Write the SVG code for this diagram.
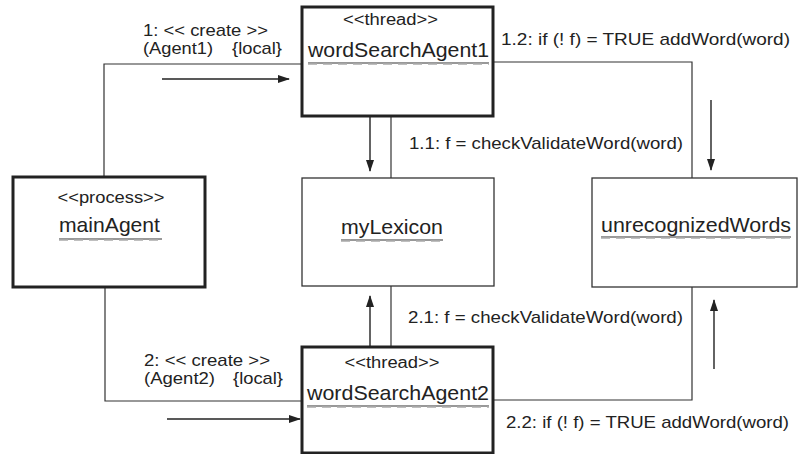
<svg xmlns="http://www.w3.org/2000/svg" width="800" height="454" viewBox="0 0 800 454">
<defs>
<marker id="ah" markerWidth="12" markerHeight="10" refX="11" refY="5" orient="auto" markerUnits="userSpaceOnUse">
<path d="M0,1 L12,5 L0,9 Z" fill="#222"/>
</marker>
<style>
text{font-family:"Liberation Sans",Arial,sans-serif;fill:#222}
.lbl{font-size:17px}
.st{font-size:16px;text-anchor:middle}
.nm{font-size:21px}
.thick{fill:#fff;stroke:#222;stroke-width:3}
.thin{fill:#fff;stroke:#333;stroke-width:1.3}
.ul{stroke:#333;stroke-width:1}
.uld{stroke:#aaa;stroke-width:1.5;stroke-dasharray:9 6}
.c{fill:none;stroke:#333;stroke-width:1.2}
.a{fill:none;stroke:#222;stroke-width:1.4;marker-end:url(#ah)}
</style>
</defs>
<rect width="800" height="454" fill="#fff"/>
<g id="connectors">
<polyline class="c" points="104,177 104,64 302,64"/>
<polyline class="c" points="493,62 692,62 692,178"/>
<line class="c" x1="391" y1="116" x2="391" y2="178"/>
<line class="c" x1="391" y1="286" x2="391" y2="347"/>
<polyline class="c" points="105,287 105,401 302,401"/>
<polyline class="c" points="493,400 692,400 692,287"/>
<line class="a" x1="162" y1="79" x2="289" y2="79"/>
<line class="a" x1="370" y1="117" x2="370" y2="171"/>
<line class="a" x1="711" y1="100" x2="711" y2="170"/>
<line class="a" x1="370" y1="346" x2="370" y2="296"/>
<line class="a" x1="714" y1="369" x2="714" y2="300"/>
<line class="a" x1="167" y1="419" x2="300" y2="419"/>
<text class="lbl" x="143" y="36" textLength="125" lengthAdjust="spacingAndGlyphs">1: &lt;&lt; create &gt;&gt;</text>
<text class="lbl" x="143" y="54" textLength="70" lengthAdjust="spacingAndGlyphs">(Agent1)</text>
<text class="lbl" x="232" y="54" textLength="50" lengthAdjust="spacingAndGlyphs">{local}</text>
<text class="lbl" x="501" y="45" textLength="289" lengthAdjust="spacingAndGlyphs">1.2: if (! f) = TRUE addWord(word)</text>
<text class="lbl" x="409" y="149" textLength="274" lengthAdjust="spacingAndGlyphs">1.1: f = checkValidateWord(word)</text>
<text class="lbl" x="408" y="323" textLength="275" lengthAdjust="spacingAndGlyphs">2.1: f = checkValidateWord(word)</text>
<text class="lbl" x="144" y="366" textLength="126" lengthAdjust="spacingAndGlyphs">2: &lt;&lt; create &gt;&gt;</text>
<text class="lbl" x="144" y="384" textLength="71" lengthAdjust="spacingAndGlyphs">(Agent2)</text>
<text class="lbl" x="233" y="384" textLength="50" lengthAdjust="spacingAndGlyphs">{local}</text>
<text class="lbl" x="506" y="428" textLength="283" lengthAdjust="spacingAndGlyphs">2.2: if (! f) = TRUE addWord(word)</text>
</g>
<g id="wordSearchAgent1">
<rect class="thick" x="302" y="7" width="191" height="109"/>
<text class="st" x="390.5" y="25" textLength="95" lengthAdjust="spacingAndGlyphs">&lt;&lt;thread&gt;&gt;</text>
<text class="nm" x="308" y="57" textLength="181" lengthAdjust="spacingAndGlyphs">wordSearchAgent1</text>
<line class="ul" x1="308" y1="63" x2="489" y2="63"/>
<line class="uld" x1="308" y1="64" x2="489" y2="64"/>
</g>
<g id="mainAgent">
<rect class="thick" x="13" y="177" width="192" height="110"/>
<text class="st" x="111" y="203" textLength="107" lengthAdjust="spacingAndGlyphs">&lt;&lt;process&gt;&gt;</text>
<text class="nm" x="59" y="232" textLength="101" lengthAdjust="spacingAndGlyphs">mainAgent</text>
<line class="ul" x1="59" y1="239" x2="162" y2="239"/>
<line class="uld" x1="59" y1="240" x2="162" y2="240"/>
</g>
<g id="myLexicon">
<rect class="thin" x="302" y="178" width="192" height="108"/>
<text class="nm" x="341" y="234" textLength="102" lengthAdjust="spacingAndGlyphs">myLexicon</text>
<line class="ul" x1="341" y1="240" x2="443" y2="240"/>
<line class="uld" x1="341" y1="241" x2="443" y2="241"/>
</g>
<g id="unrecognizedWords">
<rect class="thin" x="592" y="178" width="205" height="109"/>
<text class="nm" x="601" y="232" textLength="190" lengthAdjust="spacingAndGlyphs">unrecognizedWords</text>
<line class="ul" x1="601" y1="237" x2="791" y2="237"/>
<line class="uld" x1="601" y1="238" x2="791" y2="238"/>
</g>
<g id="wordSearchAgent2">
<rect class="thick" x="302" y="347" width="191" height="106"/>
<text class="st" x="392" y="368" textLength="95" lengthAdjust="spacingAndGlyphs">&lt;&lt;thread&gt;&gt;</text>
<text class="nm" x="307" y="400" textLength="182" lengthAdjust="spacingAndGlyphs">wordSearchAgent2</text>
<line class="ul" x1="307" y1="406" x2="489" y2="406"/>
<line class="uld" x1="307" y1="407" x2="489" y2="407"/>
</g>
</svg>
